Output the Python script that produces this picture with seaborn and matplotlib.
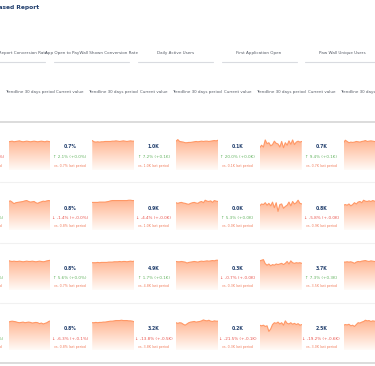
import matplotlib
matplotlib.use("Agg")
import matplotlib.pyplot as plt
from matplotlib.colors import LinearSegmentedColormap
import seaborn as sns
import numpy as np
import pandas as pd

sns.set_style("white")
plt.rcParams['font.family'] = ['DejaVu Sans']

W, H = 375, 366

# metric column headers (first one is cut off at the left edge)
metrics = ["Onboarding to Report Conversion Rate",
           "App Open to PayWall Shown Conversion Rate",
           "Daily Active Users",
           "First Application Open",
           "Paw Wall Unique Users"]

# current values per row (rows are the four report periods)
current = [
    ["0.5%", "0.7%", "1.0K", "0.1K", "0.7K"],
    ["0.6%", "0.8%", "0.9K", "0.0K", "0.8K"],
    ["0.6%", "0.8%", "4.9K", "0.3K", "3.7K"],
    ["0.6%", "0.8%", "3.2K", "0.2K", "2.5K"],
]
changes = [
    ["↓ -1.2% (+-0.0%)", "↑ 2.1% (+0.0%)", "↑ 7.2% (+0.1K)", "↑ 20.0% (+0.0K)", "↑ 9.4% (+0.1K)"],
    ["↑ 3.1% (+0.0%)", "↓ -1.4% (+-0.0%)", "↓ -4.4% (+-0.0K)", "↑ 5.3% (+0.0K)", "↓ -5.8% (+-0.0K)"],
    ["↑ 2.4% (+0.0%)", "↑ 5.6% (+0.0%)", "↑ 1.7% (+0.1K)", "↓ -0.7% (+-0.0K)", "↑ 7.3% (+0.3K)"],
    ["↑ 1.5% (+0.0%)", "↓ -6.3% (+-0.1%)", "↓ -13.8% (+-0.5K)", "↓ -21.5% (+-0.1K)", "↓ -19.2% (+-0.6K)"],
]
previous = [
    ["0.5%", "0.7%", "1.0K", "0.1K", "0.7K"],
    ["0.6%", "0.8%", "1.0K", "0.0K", "0.9K"],
    ["0.6%", "0.7%", "4.8K", "0.3K", "3.5K"],
    ["0.6%", "0.8%", "3.8K", "0.3K", "3.0K"],
]

# 30 day trendlines, scaled 0-100 per sparkline
trend = [
    [
        [91, 92, 93, 91, 92, 93, 94, 92, 91, 92, 93, 92, 91, 92, 93, 92, 91, 92, 93, 92, 91, 93, 92, 91],
        [95, 91, 90, 91, 90, 91, 91, 92, 92, 92, 92, 93, 93, 94, 93, 92, 93, 94, 93, 92, 93, 94, 93, 93],
        [93, 98, 92, 91, 90, 88, 88, 89, 89, 90, 91, 92, 91, 92, 93, 92, 93, 93, 92, 93, 94, 95, 94, 96],
        [72, 80, 74, 97, 85, 88, 78, 82, 93, 86, 84, 74, 92, 72, 88, 80, 94, 83, 97, 82, 90, 93, 90, 92],
        [88, 96, 92, 88, 90, 89, 90, 92, 91, 90, 92, 93, 95, 92, 93, 94, 93, 92, 91, 93, 92, 93, 92, 93],
    ],
    [
        [92, 94, 90, 85, 88, 89, 90, 91, 92, 94, 95, 92, 90, 91, 92, 88, 86, 89, 91, 93, 92, 94, 95, 94],
        [89, 89, 89, 89, 90, 90, 90, 90, 91, 92, 94, 95, 95, 95, 95, 95, 95, 95, 95, 95, 96, 96, 95, 95],
        [88, 86, 88, 89, 87, 86, 84, 83, 86, 88, 89, 87, 86, 90, 92, 88, 96, 93, 92, 94, 89, 95, 93, 92],
        [78, 84, 82, 88, 80, 86, 78, 90, 72, 88, 60, 82, 84, 70, 76, 80, 90, 78, 92, 84, 88, 96, 86, 84],
        [80, 82, 80, 84, 78, 82, 88, 84, 90, 92, 88, 96, 93, 92, 94, 92, 95, 93, 90, 92, 94, 93, 92, 91],
    ],
    [
        [95, 93, 92, 93, 92, 92, 93, 92, 91, 92, 93, 92, 92, 93, 92, 91, 92, 93, 92, 91, 92, 94, 95, 96],
        [88, 88, 88, 89, 88, 89, 89, 89, 89, 90, 90, 90, 91, 91, 91, 92, 91, 92, 92, 91, 92, 93, 92, 93],
        [92, 91, 91, 92, 91, 90, 87, 89, 90, 91, 92, 91, 90, 92, 93, 92, 93, 94, 93, 94, 95, 94, 96, 96],
        [94, 96, 98, 85, 80, 84, 78, 82, 80, 84, 82, 84, 86, 82, 86, 92, 84, 94, 88, 86, 88, 87, 88, 86],
        [90, 90, 91, 90, 91, 89, 86, 90, 92, 91, 93, 94, 95, 93, 92, 94, 93, 92, 93, 94, 93, 92, 93, 93],
    ],
    [
        [90, 92, 93, 92, 91, 89, 88, 89, 90, 88, 89, 90, 89, 87, 88, 89, 88, 85, 87, 84, 86, 88, 92, 94],
        [88, 88, 89, 88, 89, 89, 90, 90, 91, 92, 93, 93, 94, 95, 95, 95, 96, 95, 95, 95, 94, 94, 93, 91],
        [88, 86, 88, 87, 83, 80, 84, 88, 90, 91, 92, 90, 91, 92, 94, 97, 95, 94, 96, 93, 92, 94, 93, 93],
        [80, 78, 80, 76, 78, 60, 68, 82, 88, 86, 90, 84, 88, 80, 94, 86, 84, 88, 83, 86, 82, 85, 80, 82],
        [80, 82, 81, 83, 78, 80, 76, 82, 88, 87, 90, 92, 96, 94, 95, 92, 94, 93, 92, 93, 94, 92, 93, 94],
    ],
]

NAVY = "#23406e"
GREEN = "#62b35f"
RED = "#e9534c"
VS = "#f27d5c"
LINE = "#ff9866"
GRID = "#d9dbe0"
fill_cmap = LinearSegmentedColormap.from_list("fade", ["#fffaf6", "#ffb38f"])

fig = plt.figure(figsize=(W / 100, H / 100), dpi=100)
bg = fig.add_axes([0, 0, 1, 1])
bg.set_xlim(0, W)
bg.set_ylim(H, 0)
bg.axis("off")

step = 83.75
val_x = [70 - step + i * step for i in range(5)]
spark_x = [8.5 + i * step for i in range(5)]
spark_w = 42
row_top = [139, 199, 259, 319]
row_bot = [170, 230, 290, 350]
val_y = [147, 208, 268, 328]
chg_y = [157.5, 218, 278, 338.5]
vs_y = [165.5, 226, 286, 347]

bg.text(-1, 7, "Cohort Based Report", ha="left", va="center", fontsize=4.3,
        fontweight="bold", color=NAVY)
# cut-off title: only the tail is visible
bg.texts[-1].set_position((-31, 7))

for i, name in enumerate(metrics):
    gc = val_x[i] + 21.5
    bg.text(gc, 53, name, ha="center", va="center", fontsize=3.0, color="#555b66")
    bg.plot([gc - 37.5, gc + 37.5], [62, 62], color=GRID, lw=0.8)
    bg.text(val_x[i], 92, "Current value", ha="center", va="center", fontsize=2.9, color="#555b66")
    bg.text(spark_x[i] + spark_w / 2, 92, "Trendline 30 days period", ha="center", va="center",
            fontsize=2.9, color="#555b66")

bg.plot([0, W], [122, 122], color="#d6d6d6", lw=1.2)
for y in [182, 243, 303]:
    bg.plot([0, W], [y, y], color="#f1f1f1", lw=0.8)
bg.plot([0, W], [363, 363], color="#d6d6d6", lw=1.2)

for r in range(4):
    for c in range(5):
        bg.text(val_x[c], val_y[r], current[r][c], ha="center", va="center", fontsize=3.3,
                fontweight="bold", color=NAVY)
        col = GREEN if changes[r][c].startswith("↑") else RED
        bg.text(val_x[c], chg_y[r], changes[r][c], ha="center", va="center", fontsize=3.0, color=col)
        bg.text(val_x[c], vs_y[r], f"vs. {previous[r][c]} last period", ha="center", va="center",
                fontsize=2.3, color=VS)

        vals = trend[r][c]
        df = pd.DataFrame({"day": range(len(vals)), "value": vals})
        ax = fig.add_axes([spark_x[c] / W, 1 - row_bot[r] / H, spark_w / W, (row_bot[r] - row_top[r]) / H])
        n = len(vals) - 1
        poly = ax.fill_between(df["day"], 0, df["value"], color="none", lw=0)
        grad = np.linspace(1, 0, 64).reshape(-1, 1)
        im = ax.imshow(grad, cmap=fill_cmap, extent=[0, n, 0, 100], aspect="auto",
                       origin="upper", zorder=1, vmin=0, vmax=1)
        im.set_clip_path(poly.get_paths()[0], transform=ax.transData)
        sns.lineplot(data=df, x="day", y="value", ax=ax, color=LINE, lw=0.8, zorder=2)
        ax.set_xlim(0, n)
        ax.set_ylim(0, 100)
        ax.set_xlabel("")
        ax.set_ylabel("")
        ax.set_yticks([])
        ax.set_xticks(range(len(vals)))
        ax.tick_params(axis="x", length=2, width=0.7, color="#c6ccd8", labelbottom=False, pad=0)
        for s in ax.spines.values():
            s.set_visible(False)
        ax.patch.set_alpha(0)

fig.savefig("out.png", dpi=100)
